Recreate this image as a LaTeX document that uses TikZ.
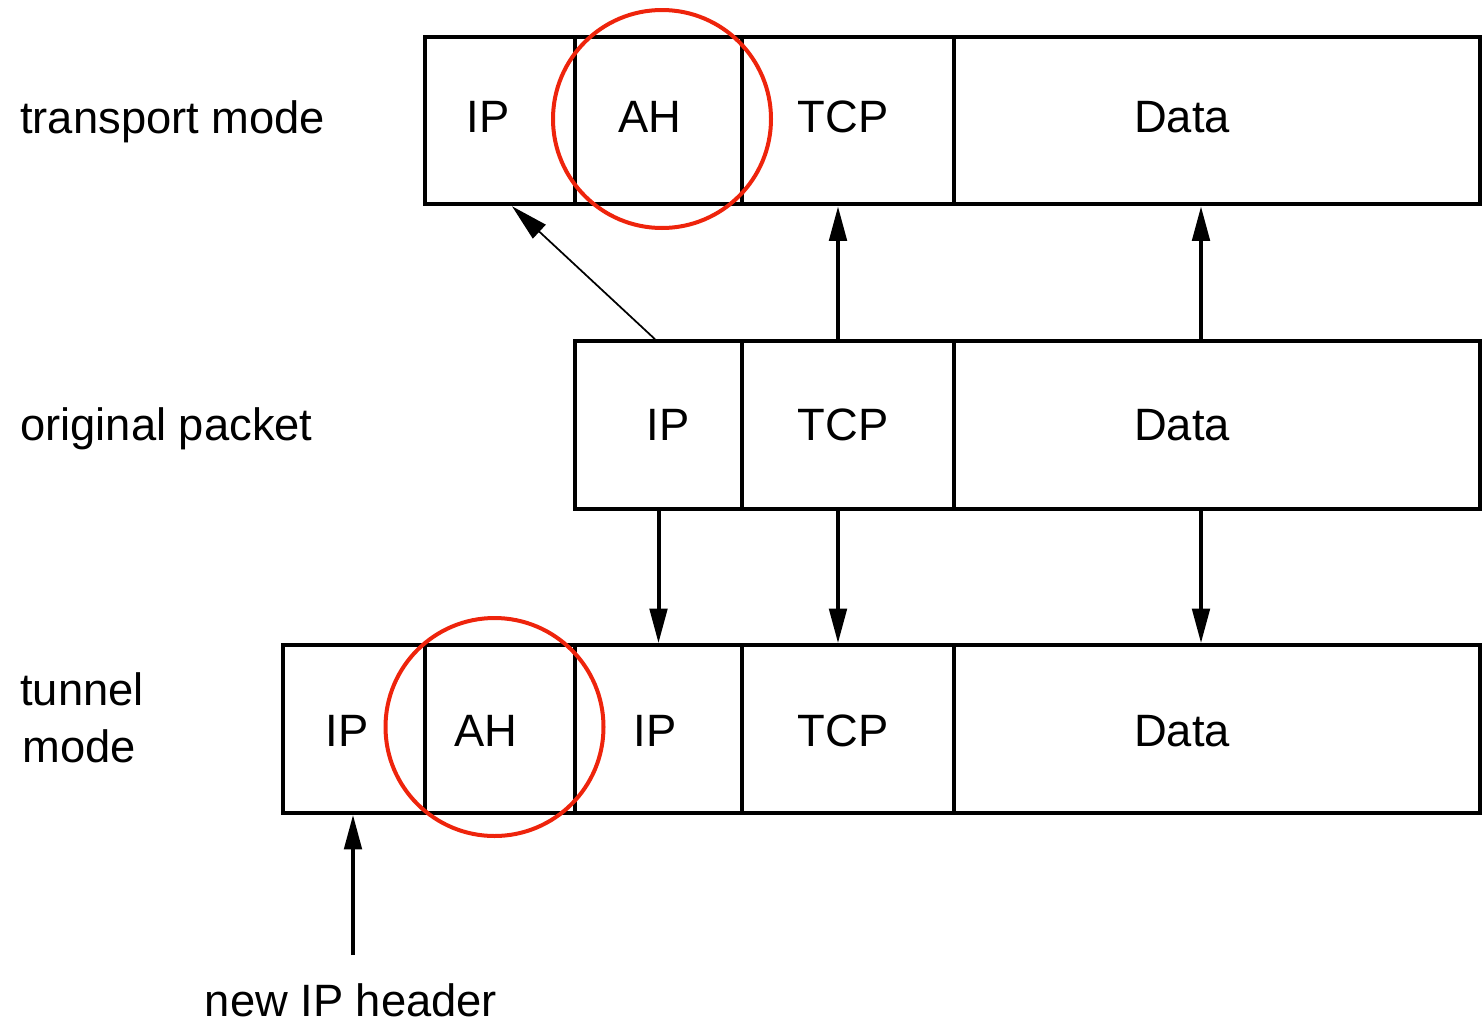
\documentclass[tikz,border=0pt]{standalone}
\usepackage{fontspec}
\setmainfont{Liberation Sans}
\usetikzlibrary{arrows.meta}
\definecolor{circred}{RGB}{238,36,12}
\begin{document}
\begin{tikzpicture}[x=0.75pt,y=-0.75pt,
  cell/.style={draw, line width=3pt, inner sep=0pt, minimum height=167.5*0.75pt},
  lbl/.style={font=\fontsize{34}{40}\selectfont, inner sep=0pt, anchor=base},
  side/.style={lbl, anchor=base west},
  arr/.style={line width=3pt, -{Triangle[length=26pt,width=13pt]}},
  diag/.style={line width=1.3pt, -{Triangle[length=28pt,width=14pt]}},
  ring/.style={circle, draw=circred, line width=3pt, minimum size=218*0.75pt, inner sep=0pt}]
\useasboundingbox (0,0) rectangle (1482,1025);

% transport mode row
\node[cell, minimum width=150*0.75pt] (t1) at (500,120.5) {};
\node[cell, minimum width=167*0.75pt] (t2) at (658.5,120.5) {};
\node[cell, minimum width=212*0.75pt] (t3) at (848,120.5) {};
\node[cell, minimum width=526*0.75pt] (t4) at (1217,120.5) {};
% original packet row
\node[cell, minimum width=167*0.75pt] (o1) at (658.5,425) {};
\node[cell, minimum width=212*0.75pt] (o2) at (848,425) {};
\node[cell, minimum width=526*0.75pt] (o3) at (1217,425) {};
% tunnel mode row
\node[cell, minimum width=142*0.75pt] (n1) at (354,729) {};
\node[cell, minimum width=150*0.75pt] (n2) at (500,729) {};
\node[cell, minimum width=167*0.75pt] (n3) at (658.5,729) {};
\node[cell, minimum width=212*0.75pt] (n4) at (848,729) {};
\node[cell, minimum width=526*0.75pt] (n5) at (1217,729) {};

% cell texts
\node[lbl] (tx1) at (488,132) {IP};
\node[lbl] (tx2) at (650,132) {AH};
\node[lbl] (tx3) at (843,132) {TCP};
\node[lbl] (tx4) at (1182,132) {Data};
\node[lbl] (ox1) at (668,440) {IP};
\node[lbl] (ox2) at (843,440) {TCP};
\node[lbl] (ox3) at (1182,440) {Data};
\node[lbl] (nx1) at (347,746) {IP};
\node[lbl] (nx2) at (486,746) {AH};
\node[lbl] (nx3) at (655,746) {IP};
\node[lbl] (nx4) at (843,746) {TCP};
\node[lbl] (nx5) at (1182,746) {Data};

% side labels
\node[side] (ltm) at (20,133) {transport mode};
\node[side] (lop) at (20,440) {original packet};
\node[side] (ltu) at (20,705) {tunnel};
\node[side] (lmo) at (22,762) {mode};
\node[lbl] (lnh) at (351,1016) {new IP header};

% connectors
\draw[diag] ([xshift=-2.6pt]o1.north) -- ([xshift=9pt]t1.south);
\draw[arr] ([xshift=-7.5pt]o2.north) -- ([xshift=-7.5pt]t3.south);
\draw[arr] ([xshift=-12pt]o3.north) -- ([xshift=-12pt]t4.south);
\draw[arr] (o1.south) -- (n3.north);
\draw[arr] ([xshift=-7.5pt]o2.south) -- ([xshift=-7.5pt]n4.north);
\draw[arr] ([xshift=-12pt]o3.south) -- ([xshift=-12pt]n5.north);
\coordinate (nb) at (353,955);
\draw[arr] (nb) -- (n1.south -| nb);

% red circles
\node[ring] (c1) at (662,119) {};
\node[ring] (c2) at (494.5,727) {};
\end{tikzpicture}
\end{document}
